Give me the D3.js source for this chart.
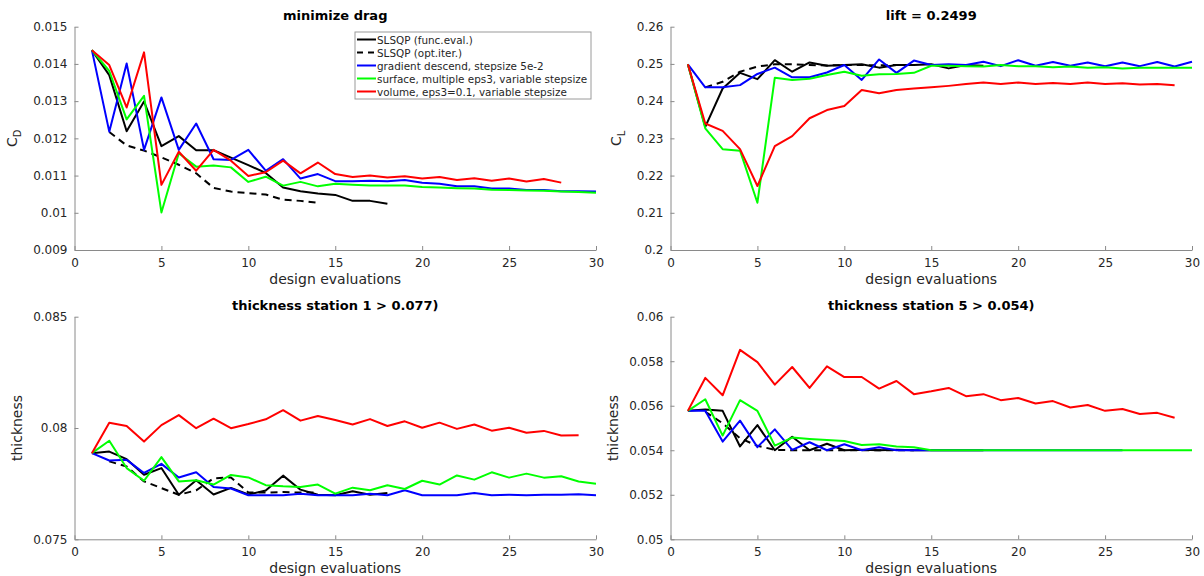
<!DOCTYPE html>
<html>
<head>
<meta charset="utf-8">
<script src="https://cdn.jsdelivr.net/npm/d3@7"></script>
<style>
  html, body { margin: 0; padding: 0; background: #fff; }
  svg { display: block; font-family: "DejaVu Sans", sans-serif; }
</style>
</head>
<body>
<svg id="chart" width="1204" height="576"></svg>
<script>
// ---------- data ----------
const seriesNames = [
  "SLSQP (func.eval.)",
  "SLSQP (opt.iter.)",
  "gradient descend, stepsize 5e-2",
  "surface, multiple eps3, variable stepsize",
  "volume, eps3=0.1, variable stepsize"
];
const seriesColors = ["#000000", "#000000", "#0000ff", "#00ff00", "#ff0000"];
const seriesDash = [null, "7,5", null, null, null];
// first design evaluation of each series (opt.iter. starts at 2)
const seriesStart = [1, 2, 1, 1, 1];

const xTicks = [0, 5, 10, 15, 20, 25, 30];

// Panel 1: minimize drag (C_D)
const dragTicks = [0.009, 0.01, 0.011, 0.012, 0.013, 0.014, 0.015];
const dragFunc = [0.01437, 0.0137, 0.01219, 0.01299, 0.01179, 0.01206, 0.01168, 0.01168, 0.01148, 0.01128, 0.01107, 0.01068, 0.01058, 0.01052, 0.01048, 0.01032, 0.01032, 0.01024];
const dragOpt = [0.01217, 0.01181, 0.01167, 0.01149, 0.01129, 0.01106, 0.01067, 0.01057, 0.01053, 0.01049, 0.01035, 0.01032, 0.01027];
const dragGrad = [0.01437, 0.01218, 0.01401, 0.01169, 0.0131, 0.01169, 0.0124, 0.01144, 0.01142, 0.01169, 0.01113, 0.01144, 0.01092, 0.01104, 0.01085, 0.01085, 0.01086, 0.01085, 0.01088, 0.01081, 0.01078, 0.01071, 0.01071, 0.01065, 0.01065, 0.01061, 0.01061, 0.01058, 0.01058, 0.01057];
const dragSurf = [0.01437, 0.01381, 0.01251, 0.01314, 0.01001, 0.0116, 0.01124, 0.01127, 0.01122, 0.01083, 0.01097, 0.01073, 0.01083, 0.01071, 0.01078, 0.01075, 0.01073, 0.01073, 0.01073, 0.01069, 0.01068, 0.01066, 0.01065, 0.01062, 0.01061, 0.0106, 0.01059, 0.01057, 0.01056, 0.01054];
const dragVol = [0.01437, 0.01397, 0.01283, 0.01431, 0.01075, 0.01164, 0.01113, 0.01169, 0.0114, 0.01099, 0.01109, 0.0114, 0.01106, 0.01135, 0.01104, 0.01096, 0.011, 0.01095, 0.01098, 0.01092, 0.01096, 0.01088, 0.01093, 0.01086, 0.01092, 0.01084, 0.01091, 0.01081];

// Panel 2: lift = 0.2499 (C_L)
const liftTicks = [0.2, 0.21, 0.22, 0.23, 0.24, 0.25, 0.26];
const liftFunc = [0.2499, 0.2331, 0.2434, 0.2476, 0.2459, 0.251, 0.2479, 0.2504, 0.2495, 0.2497, 0.2499, 0.249, 0.2497, 0.2497, 0.2499, 0.2488, 0.2497, 0.2495];
const liftOpt = [0.2437, 0.2452, 0.2479, 0.2493, 0.2499, 0.2499, 0.2497, 0.2496, 0.2497, 0.2497, 0.2496, 0.2497, 0.2497];
const liftGrad = [0.2499, 0.2437, 0.2437, 0.2443, 0.2473, 0.249, 0.2464, 0.2464, 0.2477, 0.2497, 0.2457, 0.2512, 0.2476, 0.2509, 0.2497, 0.2499, 0.2497, 0.2506, 0.2494, 0.251, 0.2495, 0.2505, 0.2495, 0.2504, 0.2494, 0.2504, 0.2494, 0.2505, 0.2493, 0.2506];
const liftSurf = [0.2499, 0.2327, 0.2271, 0.2267, 0.2127, 0.2463, 0.2457, 0.246, 0.247, 0.2479, 0.2468, 0.2472, 0.2473, 0.2476, 0.2495, 0.2495, 0.2494, 0.2493, 0.2497, 0.2494, 0.2494, 0.2491, 0.2493, 0.249, 0.2491, 0.2488, 0.249, 0.249, 0.249, 0.249];
const liftVol = [0.2499, 0.234, 0.232, 0.2271, 0.2172, 0.2279, 0.2306, 0.2354, 0.2376, 0.2387, 0.243, 0.2421, 0.243, 0.2434, 0.2437, 0.2441, 0.2446, 0.245, 0.2446, 0.245, 0.2446, 0.2449, 0.2446, 0.245, 0.2446, 0.2448, 0.2445, 0.2446, 0.2443];

// Panel 3: thickness station 1 > 0.077
const th1Ticks = [0.075, 0.08, 0.085];
const th1Func = [0.07887, 0.07894, 0.0786, 0.0779, 0.0782, 0.077, 0.07765, 0.07701, 0.07731, 0.07701, 0.07719, 0.07786, 0.07723, 0.077, 0.07698, 0.07716, 0.077, 0.07708];
const th1Opt = [0.0785, 0.07827, 0.0776, 0.0773, 0.077, 0.0772, 0.07774, 0.07778, 0.0771, 0.0771, 0.07712, 0.0771, 0.0771];
const th1Grad = [0.07887, 0.07854, 0.07857, 0.07798, 0.07839, 0.07778, 0.07801, 0.07735, 0.07728, 0.07698, 0.07698, 0.07698, 0.07705, 0.07698, 0.07698, 0.07698, 0.07705, 0.07698, 0.0772, 0.07698, 0.07698, 0.07698, 0.07708, 0.07698, 0.077, 0.07698, 0.077, 0.077, 0.07702, 0.07698];
const th1Surf = [0.07887, 0.07943, 0.0782, 0.07763, 0.07869, 0.0776, 0.07765, 0.07746, 0.07789, 0.07778, 0.07743, 0.07738, 0.07735, 0.07746, 0.07705, 0.07732, 0.0772, 0.07743, 0.07726, 0.07763, 0.07746, 0.07787, 0.07768, 0.07801, 0.07777, 0.07795, 0.07777, 0.07783, 0.0776, 0.0775];
const th1Vol = [0.07887, 0.08024, 0.08009, 0.07939, 0.08013, 0.08058, 0.07999, 0.08042, 0.07999, 0.08018, 0.08039, 0.0808, 0.08033, 0.08054, 0.08036, 0.08016, 0.0804, 0.08009, 0.0803, 0.08001, 0.08024, 0.07996, 0.08016, 0.07988, 0.08001, 0.07979, 0.07987, 0.07966, 0.07967];

// Panel 4: thickness station 5 > 0.054
const th5Ticks = [0.05, 0.052, 0.054, 0.056, 0.058, 0.06];
const th5Func = [0.05577, 0.05583, 0.05577, 0.05417, 0.05513, 0.054, 0.05461, 0.054, 0.05429, 0.054, 0.05402, 0.054, 0.05402, 0.054, 0.054, 0.054, 0.054, 0.054];
const th5Opt = [0.05573, 0.05521, 0.05454, 0.0542, 0.05402, 0.054, 0.054, 0.054, 0.054, 0.054, 0.054, 0.054, 0.054];
const th5Grad = [0.05577, 0.05577, 0.05439, 0.05533, 0.05414, 0.05494, 0.05402, 0.05436, 0.054, 0.05427, 0.054, 0.05414, 0.054, 0.054, 0.054, 0.054, 0.054, 0.054, 0.054, 0.054, 0.054, 0.054, 0.054, 0.054, 0.054, 0.054];
const th5Surf = [0.05577, 0.05629, 0.05466, 0.05625, 0.05577, 0.05421, 0.05457, 0.05451, 0.05446, 0.05442, 0.05424, 0.05427, 0.05417, 0.05414, 0.054, 0.054, 0.054, 0.054, 0.054, 0.054, 0.054, 0.054, 0.054, 0.054, 0.054, 0.054, 0.054, 0.054, 0.054, 0.054];
const th5Vol = [0.05577, 0.05725, 0.05647, 0.05851, 0.05796, 0.05695, 0.05774, 0.0568, 0.05777, 0.05729, 0.05729, 0.05677, 0.05711, 0.05652, 0.05665, 0.0568, 0.05643, 0.05652, 0.05625, 0.05635, 0.0561, 0.05621, 0.05592, 0.05603, 0.05577, 0.05585, 0.05563, 0.05568, 0.05546];

// ---------- panels ----------
const panels = [
  { title: "minimize drag", ylabel: "C", sub: "D", ticks: dragTicks, data: [dragFunc, dragOpt, dragGrad, dragSurf, dragVol],
    box: { x0: 74.5, x1: 596, y0: 26.7, y1: 250 }, legend: true, ylabX: 17 },
  { title: "lift = 0.2499", ylabel: "C", sub: "L", ticks: liftTicks, data: [liftFunc, liftOpt, liftGrad, liftSurf, liftVol],
    box: { x0: 670.5, x1: 1192, y0: 26.7, y1: 250 }, legend: false, ylabX: 621 },
  { title: "thickness station 1 > 0.077)", ylabel: "thickness", ticks: th1Ticks, data: [th1Func, th1Opt, th1Grad, th1Surf, th1Vol],
    box: { x0: 74.5, x1: 596, y0: 316.7, y1: 539.3 }, legend: false, ylabX: 22 },
  { title: "thickness station 5 > 0.054)", ylabel: "thickness", ticks: th5Ticks, data: [th5Func, th5Opt, th5Grad, th5Surf, th5Vol],
    box: { x0: 670.5, x1: 1192, y0: 316.7, y1: 539.3 }, legend: false, ylabX: 618 }
];

const svg = d3.select("#chart");
const fmt = d3.format("~g");
const axisColor = "#8a8a8a";
const textColor = "#262626";

panels.forEach(p => {
  const b = p.box;
  const x = d3.scaleLinear().domain([0, 30]).range([b.x0, b.x1]);
  const y = d3.scaleLinear().domain(d3.extent(p.ticks)).range([b.y1, b.y0]);
  const g = svg.append("g");

  // x axis
  const xa = g.append("g").attr("transform", `translate(0,${b.y1})`)
    .call(d3.axisBottom(x).tickValues(xTicks).tickFormat(fmt).tickSizeInner(-4).tickSizeOuter(0).tickPadding(8));
  // y axis
  const ya = g.append("g").attr("transform", `translate(${b.x0},0)`)
    .call(d3.axisLeft(y).tickValues(p.ticks).tickFormat(fmt).tickSizeInner(-4).tickSizeOuter(0).tickPadding(7));
  [xa, ya].forEach(a => {
    a.select(".domain").attr("stroke", axisColor).attr("stroke-width", 1);
    a.selectAll(".tick line").attr("stroke", axisColor).attr("stroke-width", 1);
    a.selectAll(".tick text").attr("fill", textColor).style("font-size", "12px")
      .style("font-family", "DejaVu Sans, sans-serif");
  });

  // lines
  const line = (start) => d3.line().x((d, i) => x(start + i)).y(d => y(d));
  p.data.forEach((vals, k) => {
    g.append("path").datum(vals)
      .attr("d", line(seriesStart[k]))
      .attr("fill", "none")
      .attr("stroke", seriesColors[k])
      .attr("stroke-width", 2)
      .attr("stroke-linejoin", "round")
      .attr("stroke-dasharray", seriesDash[k]);
  });

  // title
  g.append("text").attr("x", (b.x0 + b.x1) / 2).attr("y", b.y0 - 7)
    .attr("text-anchor", "middle").attr("fill", "#000")
    .style("font-size", "13px").style("font-weight", "bold").text(p.title);

  // x label
  g.append("text").attr("x", (b.x0 + b.x1) / 2).attr("y", b.y1 + 34)
    .attr("text-anchor", "middle").attr("fill", textColor)
    .style("font-size", "14px").text("design evaluations");

  // y label
  const yl = g.append("text")
    .attr("transform", `translate(${p.ylabX},${(b.y0 + b.y1) / 2}) rotate(-90)`)
    .attr("text-anchor", "middle").attr("fill", textColor)
    .style("font-size", "14px");
  if (p.sub) {
    yl.append("tspan").text(p.ylabel);
    yl.append("tspan").attr("dy", 4).style("font-size", "10px").text(p.sub);
  } else {
    yl.text(p.ylabel);
  }

  // legend
  if (p.legend) {
    const lx = 355, ly = 32, lw = 236, lh = 67, rowH = 13;
    const lg = g.append("g");
    lg.append("rect").attr("x", lx).attr("y", ly).attr("width", lw).attr("height", lh)
      .attr("fill", "#fff").attr("stroke", "#9a9a9a").attr("stroke-width", 1);
    seriesNames.forEach((name, k) => {
      const cy = ly + 7.5 + k * rowH;
      lg.append("line").attr("x1", lx + 2).attr("x2", lx + 21).attr("y1", cy).attr("y2", cy)
        .attr("stroke", seriesColors[k]).attr("stroke-width", 2)
        .attr("stroke-dasharray", seriesDash[k] ? "6,5" : null);
      lg.append("text").attr("x", lx + 22).attr("y", cy + 4)
        .attr("fill", textColor).style("font-size", "10.4px").text(name);
    });
  }
});
</script>
</body>
</html>
